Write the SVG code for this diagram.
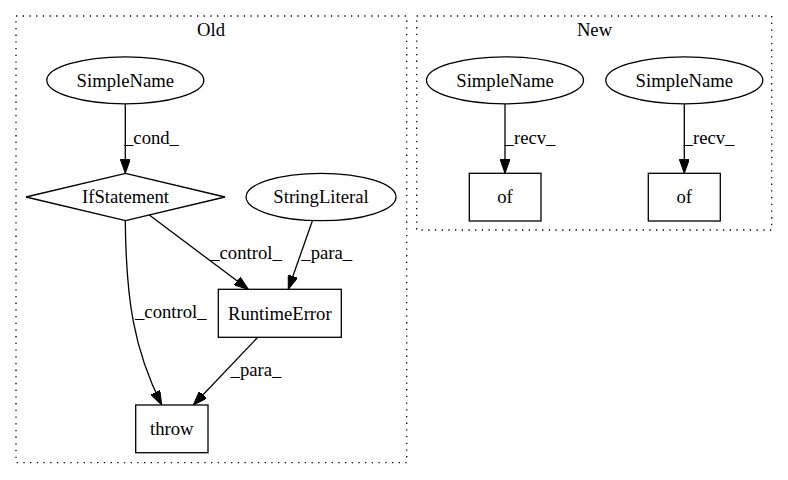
<svg xmlns="http://www.w3.org/2000/svg" width="788" height="480" viewBox="0 0 788 480">
<defs>
<style>
text{font-family:"Liberation Serif","Times New Roman",serif;font-size:18.67px;fill:#000;text-anchor:middle}
.cl{fill:none;stroke:#000;stroke-width:1.3;stroke-dasharray:1.3,5.4}
.n{fill:none;stroke:#000;stroke-width:1.3}
.e{fill:none;stroke:#000;stroke-width:1.3;marker-end:url(#ah)}
</style>
<marker id="ah" markerUnits="userSpaceOnUse" markerWidth="14" markerHeight="10" refX="14" refY="5" orient="auto" viewBox="0 0 14 10">
<path d="M0,0 L14,5 L0,10 z" fill="#000" stroke="#000" stroke-width="1"/>
</marker>
</defs>
<rect width="788" height="480" fill="#fff"/>
<g id="cluster_old">
<rect class="cl" x="16" y="16" width="390.7" height="446.7"/>
<text x="211" y="36">Old</text>
</g>
<g id="cluster_new">
<rect class="cl" x="416.7" y="16" width="355" height="214"/>
<text x="594.5" y="36">New</text>
</g>
<g id="edges">
<path class="e" d="M125.3,104 L125.3,173.3"/>
<text x="151.5" y="144">_cond_</text>
<path class="e" d="M149.3,215 L248.3,289.3"/>
<text x="246" y="259">_control_</text>
<path class="e" d="M312.3,221 L288.3,289.3"/>
<text x="326.7" y="259">_para_</text>
<path class="e" d="M125.3,220.7 C126,300 134,350 161.7,405"/>
<text x="170.8" y="318">_control_</text>
<path class="e" d="M257.7,337.3 L193.3,405"/>
<text x="256" y="376">_para_</text>
<path class="e" d="M505,104 L505,173.3"/>
<text x="530" y="144">_recv_</text>
<path class="e" d="M684.3,104 L684.3,173.3"/>
<text x="709" y="144">_recv_</text>
</g>
<g id="old_simplename">
<ellipse class="n" cx="125.3" cy="80.3" rx="78.5" ry="23.5"/>
<text x="125.3" y="86.7">SimpleName</text>
</g>
<g id="ifstatement">
<polygon class="n" points="125.5,173.3 225,197 125.5,220.7 26,197"/>
<text x="125.5" y="203">IfStatement</text>
</g>
<g id="stringliteral">
<ellipse class="n" cx="321" cy="197" rx="75" ry="23.7"/>
<text x="321" y="203">StringLiteral</text>
</g>
<g id="runtimeerror">
<rect class="n" x="218.3" y="289.3" width="123" height="48"/>
<text x="279.8" y="319.5">RuntimeError</text>
</g>
<g id="throw">
<rect class="n" x="135.7" y="405" width="72.3" height="47.7"/>
<text x="171.8" y="435">throw</text>
</g>
<g id="new_simplename1">
<ellipse class="n" cx="505" cy="80.3" rx="78.5" ry="23.5"/>
<text x="505" y="86.7">SimpleName</text>
</g>
<g id="new_simplename2">
<ellipse class="n" cx="684.3" cy="80.3" rx="78.5" ry="23.5"/>
<text x="684.3" y="86.7">SimpleName</text>
</g>
<g id="of1">
<rect class="n" x="469.3" y="173.3" width="71.7" height="47.7"/>
<text x="505" y="203">of</text>
</g>
<g id="of2">
<rect class="n" x="648.3" y="173.3" width="72" height="47.7"/>
<text x="684.3" y="203">of</text>
</g>
</svg>
